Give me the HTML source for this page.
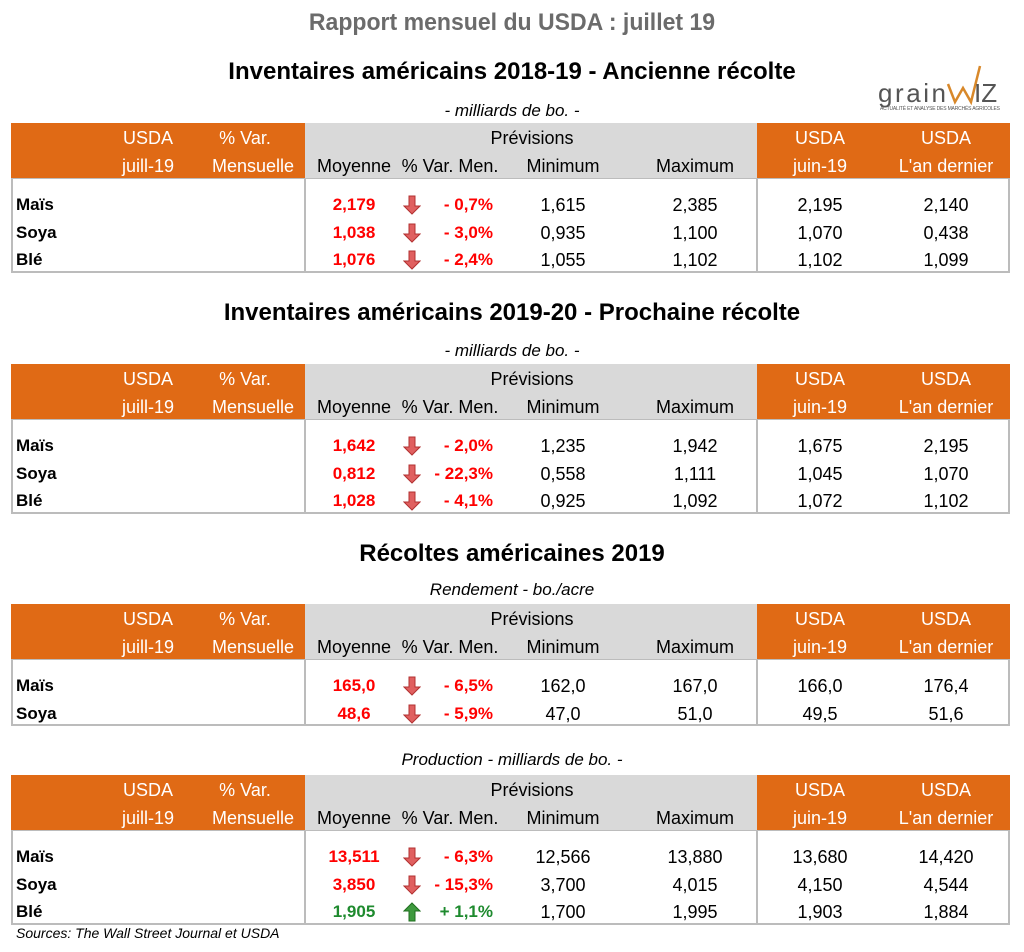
<!DOCTYPE html>
<html><head><meta charset="utf-8">
<style>
html,body{margin:0;padding:0;background:#fff;}
#root{position:relative;width:1024px;height:952px;overflow:hidden;font-family:"Liberation Sans",sans-serif;}
.t{position:absolute;white-space:nowrap;line-height:1;}
.c{transform:translateX(-50%);}
.r{transform:translateX(-100%);}
.l{}
.box{position:absolute;box-sizing:border-box;}
</style></head>
<body>
<div id="root">
  <div class="t c" style="left:512px;top:11px;font-size:24px;font-weight:bold;color:#6b6b6b;transform:translateX(-50%) scaleX(0.96);">Rapport mensuel du USDA : juillet 19</div>
  <div class="box" style="left:876px;top:62px;width:130px;height:50px;">
    <svg width="130" height="50" viewBox="0 0 130 50">
      <text x="2" y="40" font-family="Liberation Sans, sans-serif" font-size="26" fill="#555" textLength="68">grain</text>
      <polyline points="72,22 79,40 87,26 95,40 104,4" fill="none" stroke="#d8882a" stroke-width="2.5"/>
      <text x="98" y="40" font-family="Liberation Sans, sans-serif" font-size="26" fill="#555">IZ</text>
      <text x="4" y="48" font-family="Liberation Sans, sans-serif" font-size="5" fill="#555" textLength="120">ACTUALITÉ ET ANALYSE DES MARCHÉS AGRICOLES</text>
    </svg>
  </div>
</div>
<script>
const root=document.getElementById('root');
function txt(x,y,s,cls,style,name){
  const d=document.createElement('div');
  d.className='t '+cls;
  d.style.left=x+'px';d.style.top=y+'px';
  d.style.cssText+=style||'';
  d.textContent=s;
  
  
  root.appendChild(d);return d;
}
function box(x,y,w,h,style,name){
  const d=document.createElement('div');
  d.className='box';
  d.style.left=x+'px';d.style.top=y+'px';d.style.width=w+'px';d.style.height=h+'px';
  d.style.cssText+=style;
  
  
  root.appendChild(d);return d;
}
function arrow(x,y,up,name){
  const d=document.createElement('div');
  d.className='box';
  d.style.left=(x-9)+'px';d.style.top=(y-10)+'px';
  
  
  const col=up?'#3f9a3f':'#e06060', st=up?'#1f6f1f':'#b23030';
  const pts=up?'9,1 17,9 12,9 12,19 6,19 6,9 1,9':'6,1 12,1 12,11 17,11 9,19 1,11 6,11';
  d.innerHTML='<svg width="18" height="20"><polygon points="'+pts+'" fill="'+col+'" stroke="'+st+'" stroke-width="1"/></svg>';
  root.appendChild(d);
}

const sectionTitles=[["Inventaires américains 2018-19 - Ancienne récolte",60],["Inventaires américains 2019-20 - Prochaine récolte",301],["Récoltes américaines 2019",542]];
const subtitles=[["- milliards de bo.  -",102,123],["- milliards de bo.  -",342,364],["Rendement - bo./acre",581,604],["Production - milliards de bo. -",751,775]];
const crops=[["Maïs","Soya","Blé"],["Maïs","Soya","Blé"],["Maïs","Soya"],["Maïs","Soya","Blé"]];
const moyenne=[["2,179","1,038","1,076"],["1,642","0,812","1,028"],["165,0","48,6"],["13,511","3,850","1,905"]];
const varMen=[["- 0,7%","- 3,0%","- 2,4%"],["- 2,0%","- 22,3%","- 4,1%"],["- 6,5%","- 5,9%"],["- 6,3%","- 15,3%","+ 1,1%"]];
const minimum=[["1,615","0,935","1,055"],["1,235","0,558","0,925"],["162,0","47,0"],["12,566","3,700","1,700"]];
const maximum=[["2,385","1,100","1,102"],["1,942","1,111","1,092"],["167,0","51,0"],["13,880","4,015","1,995"]];
const juin=[["2,195","1,070","1,102"],["1,675","1,045","1,072"],["166,0","49,5"],["13,680","4,150","1,903"]];
const anDernier=[["2,140","0,438","1,099"],["2,195","1,070","1,102"],["176,4","51,6"],["14,420","4,544","1,884"]];

sectionTitles.forEach((s,i)=>{
  txt(512,s[1],s[0],'c','font-size:24px;font-weight:bold;color:#000;','section-title-'+(i+1));
});

subtitles.forEach((s,ti)=>{
  txt(512,s[1],s[0],'c','font-size:17px;font-style:italic;color:#000;','table-subtitle-'+(ti+1));
  const y=s[2], hh=55, rows=crops[ti].length, bh=rows*27.5+12;
  box(11,y,294,hh,'background:#e06a15;','header-usda-block-'+(ti+1));
  box(305,y,452,hh,'background:#d9d9d9;','header-previsions-block-'+(ti+1));
  box(757,y,253,hh,'background:#e06a15;','header-compare-block-'+(ti+1));
  box(11,y+hh,999,bh,'border:2px solid #bcbcbc;border-top:1px solid #bcbcbc;','table-body-'+(ti+1));
  box(304,y+hh,2,bh,'background:#bcbcbc;','body-divider-left-'+(ti+1));
  box(756,y+hh,2,bh,'background:#bcbcbc;','body-divider-right-'+(ti+1));
  const hs='font-size:18px;color:#fff;', gs='font-size:18px;color:#000;';
  const r1=y+6, r2=y+34;
  txt(148,r1,'USDA','c',hs,'header-usda');
  txt(148,r2,'juill-19','c',hs,'header-juill-19');
  txt(245,r1,'% Var.','c',hs,'header-var');
  txt(253,r2,'Mensuelle','c',hs,'header-mensuelle');
  txt(532,r1,'Prévisions','c',gs,'header-previsions');
  txt(354,r2,'Moyenne','c',gs,'header-moyenne');
  txt(450,r2,'% Var. Men.','c',gs,'header-var-men');
  txt(563,r2,'Minimum','c',gs,'header-minimum');
  txt(695,r2,'Maximum','c',gs,'header-maximum');
  txt(820,r1,'USDA','c',hs,'header-usda-juin');
  txt(820,r2,'juin-19','c',hs,'header-juin-19');
  txt(946,r1,'USDA','c',hs,'header-usda-an');
  txt(946,r2,"L'an dernier",'c',hs,'header-an-dernier');
  crops[ti].forEach((c,ri)=>{
    const cy=y+hh+27+ri*27.5, ty=cy-9;
    const up=varMen[ti][ri].trim().startsWith('+');
    const col=up?'#1e8a2e':'#ff0000';
    txt(16,ty,c,'l','font-size:17px;font-weight:bold;color:#000;','row-label-'+c);
    txt(354,ty,moyenne[ti][ri],'c','font-size:17px;font-weight:bold;color:'+col+';','moyenne-value');
    arrow(412,cy,up,up?'up-arrow':'down-arrow');
    txt(493,ty,varMen[ti][ri],'r','font-size:17px;font-weight:bold;color:'+col+';','var-men-value');
    txt(563,ty,minimum[ti][ri],'c','font-size:18px;color:#000;','minimum-value');
    txt(695,ty,maximum[ti][ri],'c','font-size:18px;color:#000;','maximum-value');
    txt(820,ty,juin[ti][ri],'c','font-size:18px;color:#000;','juin-value');
    txt(946,ty,anDernier[ti][ri],'c','font-size:18px;color:#000;','an-dernier-value');
  });
});
txt(16,926,'Sources: The Wall Street Journal et USDA','l','font-size:14px;font-style:italic;color:#000;','sources-note');
</script>
</body></html>
